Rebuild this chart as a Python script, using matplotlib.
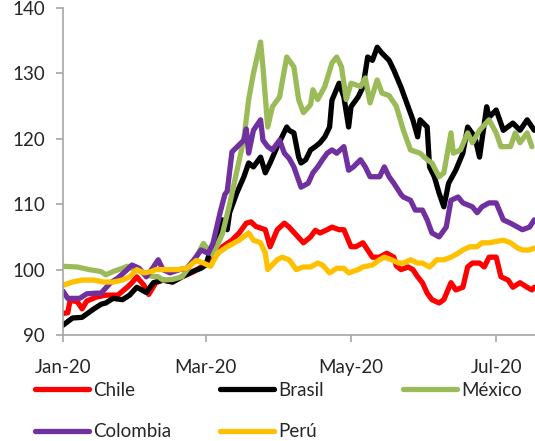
import matplotlib
matplotlib.use('Agg')
import matplotlib.pyplot as plt
import matplotlib.dates as mdates
import pandas as pd

# Puntos: (dias desde 1-ene-2020, indice)
start = pd.Timestamp('2020-01-01')

chile = [(0, 93.3), (2, 93.4), (3, 95.3), (6, 95.1), (8, 94.0), (10, 95.2), (14, 95.8), (18, 96.1), (23, 96.1), (27, 97.3),
         (29, 98.0), (31, 98.9), (34, 97.6), (36, 96.2), (39, 98.0), (42, 98.4), (46, 98.1), (50, 98.9), (55, 99.7), (58, 100.4),
         (60, 100.8), (63, 101.5), (67, 103.5), (71, 104.5), (74, 105.6), (77, 107.1), (79, 107.3), (81, 106.6), (85, 106.1), (87, 103.5),
         (90, 106.1), (93, 107.1), (95, 106.5), (98, 105.3), (101, 104.1), (104, 105.0), (106, 106.0), (108, 105.6), (111, 106.1), (113, 106.5),
         (116, 106.1), (118, 106.1), (121, 103.5), (123, 103.5), (126, 104.1), (128, 103.0), (130, 101.9), (133, 101.9), (136, 102.5), (139, 101.9),
         (140, 100.6), (142, 100.0), (145, 100.4), (147, 100.0), (149, 98.9), (151, 98.0), (153, 96.4), (155, 95.4), (158, 94.9), (160, 95.4),
         (163, 98.0), (165, 96.9), (168, 97.3), (170, 100.4), (172, 101.0), (175, 101.0), (177, 100.4), (179, 101.9), (182, 101.9), (184, 98.9),
         (187, 98.4), (189, 97.3), (192, 98.0), (195, 97.3), (197, 96.9), (198, 97.3)]

brasil = [(0, 91.5), (4, 92.6), (8, 92.7), (13, 94.0), (16, 94.7), (18, 94.9), (21, 95.6), (25, 95.4), (28, 96.1), (31, 97.3),
          (35, 96.5), (38, 98.0), (42, 98.4), (46, 98.1), (50, 98.9), (55, 99.8), (58, 100.2), (60, 100.7), (62, 103.0), (65, 104.5),
          (67, 107.6), (69, 106.1), (70, 108.7), (73, 111.7), (76, 114.2), (78, 116.3), (80, 115.7), (83, 117.2), (85, 114.8), (87, 116.3),
          (90, 118.8), (94, 121.8), (95, 121.3), (97, 120.9), (99, 117.2), (100, 116.3), (102, 116.8), (104, 118.3), (106, 118.8), (108, 119.4),
          (110, 120.3), (112, 121.8), (113, 125.9), (116, 128.5), (118, 126.4), (120, 121.8), (121, 124.9), (124, 126.4), (126, 127.9), (128, 132.5),
          (130, 132.0), (132, 134.0), (134, 133.1), (137, 132.0), (139, 130.5), (142, 127.9), (145, 124.9), (147, 122.9), (149, 120.3), (150, 122.9),
          (153, 121.8), (154, 115.7), (156, 114.2), (158, 111.7), (160, 109.6), (162, 113.2), (165, 115.2), (168, 117.8), (170, 121.8), (173, 120.3),
          (175, 117.2), (178, 124.9), (179, 123.3), (182, 124.4), (185, 121.3), (189, 122.4), (192, 121.3), (195, 122.9), (198, 121.3)]

mexico = [(0, 100.5), (6, 100.4), (11, 100.0), (16, 99.7), (18, 99.2), (21, 99.7), (25, 100.2), (27, 100.5), (34, 99.5), (37, 99.0),
          (40, 98.9), (42, 98.4), (46, 98.5), (50, 98.9), (53, 100.4), (56, 101.9), (59, 104.0), (61, 103.0), (63, 102.3), (67, 105.5),
          (70, 110.0), (73, 115.0), (76, 120.0), (78, 126.0), (80, 130.0), (83, 134.8), (84, 131.0), (86, 121.8), (88, 124.9), (91, 126.4),
          (92, 128.5), (94, 132.5), (97, 131.0), (99, 126.0), (101, 124.0), (104, 125.2), (105, 127.5), (107, 126.0), (110, 128.0), (113, 131.6),
          (115, 132.5), (117, 131.0), (119, 126.0), (121, 128.5), (125, 128.0), (127, 129.3), (129, 125.5), (132, 129.0), (134, 127.0), (137, 126.6),
          (140, 125.0), (143, 121.3), (146, 118.3), (150, 117.8), (153, 116.8), (155, 116.3), (158, 114.2), (160, 114.8), (163, 120.9), (164, 117.8),
          (167, 118.3), (170, 120.9), (172, 119.4), (175, 121.3), (179, 122.9), (182, 120.9), (184, 118.8), (188, 118.8), (190, 120.9), (192, 119.4),
          (195, 120.9), (197, 118.8)]

colombia = [(0, 96.7), (2, 95.6), (7, 95.6), (10, 96.3), (14, 96.4), (16, 96.4), (20, 98.0), (23, 98.7), (27, 100.0), (29, 100.7),
            (32, 100.2), (35, 98.9), (38, 100.4), (40, 101.5), (42, 100.0), (45, 99.5), (49, 100.0), (52, 100.2), (55, 101.5), (58, 103.0),
            (61, 102.5), (63, 104.0), (66, 108.7), (68, 111.5), (69, 112.0), (71, 118.0), (76, 119.8), (77, 121.5), (78, 117.8), (80, 121.3),
            (83, 122.9), (84, 119.8), (86, 118.8), (88, 118.3), (91, 119.8), (93, 117.8), (95, 117.0), (97, 115.7), (100, 112.6), (103, 113.2),
            (105, 114.8), (107, 115.7), (109, 116.8), (111, 117.8), (113, 118.3), (115, 117.8), (118, 118.8), (120, 115.2), (122, 115.7), (125, 116.8),
            (127, 115.7), (129, 114.2), (133, 114.2), (135, 115.7), (137, 114.2), (139, 113.2), (142, 111.5), (143, 111.1), (146, 110.6), (148, 109.1),
            (151, 109.1), (153, 107.6), (155, 105.6), (158, 105.0), (161, 106.5), (163, 110.6), (166, 111.1), (168, 110.2), (172, 109.6), (174, 108.7),
            (176, 109.6), (179, 110.2), (182, 110.2), (185, 107.6), (188, 107.1), (191, 106.5), (193, 106.1), (196, 106.5), (198, 107.6)]

peru = [(0, 97.6), (4, 98.1), (8, 98.4), (13, 98.4), (17, 98.1), (21, 98.1), (25, 98.4), (28, 98.9), (31, 100.0), (34, 99.5),
        (37, 99.7), (39, 100.0), (44, 100.0), (48, 100.0), (52, 100.2), (56, 101.4), (59, 101.0), (62, 100.5), (65, 102.5), (69, 103.5),
        (72, 104.1), (74, 104.5), (78, 105.6), (80, 104.5), (83, 104.1), (85, 102.5), (86, 100.0), (90, 101.5), (92, 101.9), (95, 101.5),
        (98, 100.0), (101, 100.4), (104, 100.4), (107, 101.0), (109, 100.7), (112, 99.5), (115, 100.2), (118, 100.2), (120, 99.5), (124, 100.0),
        (126, 100.4), (130, 100.7), (133, 101.5), (135, 101.9), (138, 101.5), (141, 101.0), (143, 101.0), (146, 101.5), (149, 101.0), (151, 101.0),
        (154, 100.4), (157, 101.5), (160, 101.5), (163, 101.9), (166, 102.5), (168, 103.0), (171, 103.5), (174, 103.5), (176, 104.1), (179, 104.1),
        (182, 104.3), (185, 104.5), (188, 104.1), (191, 103.3), (193, 103.0), (196, 103.0), (198, 103.3)]

names = ['Chile', 'Brasil', 'México', 'Colombia', 'Perú']
colors = ['#FF0000', '#000000', '#9BBB59', '#7030A0', '#FFC000']
series = [chile, brasil, mexico, colombia, peru]

plt.rcParams['font.family'] = ['Lato', 'DejaVu Sans']
txt_color = '#262626'
axis_color = '#A6A6A6'

fig = plt.figure(figsize=(5.35, 4.41), dpi=100)
ax = fig.add_axes([63 / 535, 1 - 335 / 441, 1 - 63 / 535, 327 / 441])

lines = []
for name, pts, color in zip(names, series, colors):
    x = start + pd.to_timedelta([p[0] for p in pts], unit='D')
    y = [p[1] for p in pts]
    ln, = ax.plot(x, y, color=color, lw=3.8, label=name,
                  solid_joinstyle='round', solid_capstyle='round')
    lines.append(ln)

ax.set_ylim(90, 140)
ax.set_yticks(range(90, 141, 10))
ax.set_xlim(start, start + pd.Timedelta(days=198.3))
ax.xaxis.set_major_locator(mdates.MonthLocator(bymonth=[1, 3, 5, 7]))
ax.xaxis.set_major_formatter(mdates.DateFormatter('%b-%y'))

for side in ['top', 'right']:
    ax.spines[side].set_visible(False)
for side in ['left', 'bottom']:
    ax.spines[side].set_color(axis_color)
    ax.spines[side].set_linewidth(1.2)

ax.tick_params(axis='both', colors=axis_color, labelcolor=txt_color, labelsize=13.5, width=1.2, length=5)
ax.tick_params(axis='x', pad=12)
ax.tick_params(axis='y', pad=8)

# Leyenda: columnas de igual ancho como en Excel
cols = [([lines[0], lines[3]], 35), ([lines[1], lines[4]], 220), ([lines[2]], 403)]
for handles, xpx in cols:
    fig.legend(handles=handles, labels=[h.get_label() for h in handles],
               loc='upper left', bbox_to_anchor=(xpx / 535, 1 - 382 / 441),
               frameon=False, fontsize=13.5, labelcolor=txt_color,
               handlelength=2.9, handletextpad=0.2, labelspacing=1.3,
               borderpad=0, borderaxespad=0)

fig.savefig('out.png', dpi=100)
